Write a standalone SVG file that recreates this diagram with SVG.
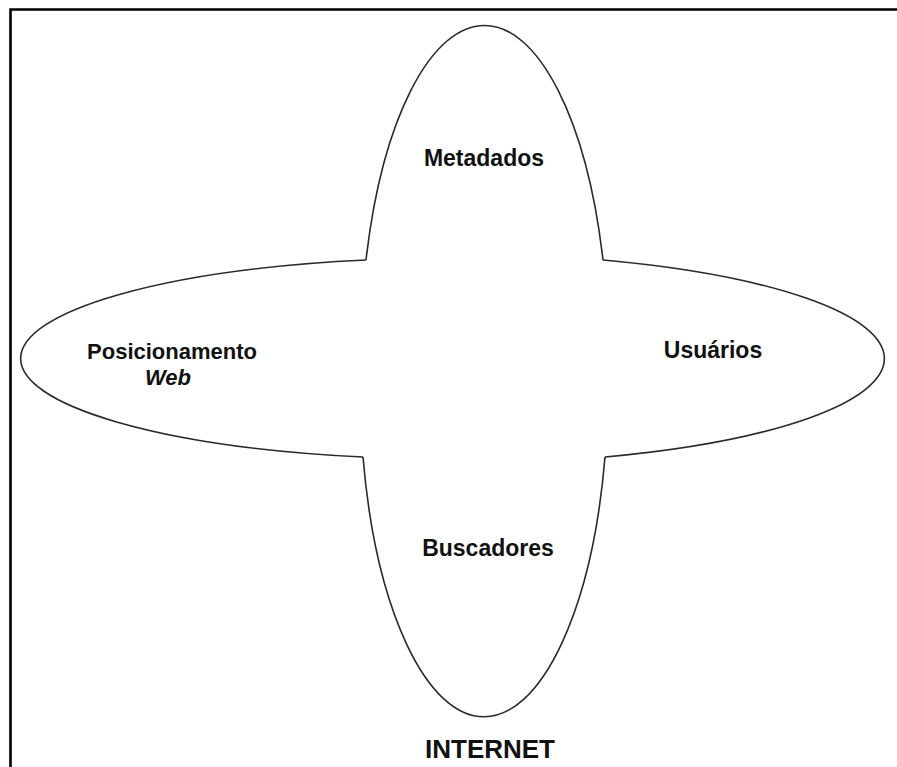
<svg xmlns="http://www.w3.org/2000/svg" width="897" height="767" viewBox="0 0 897 767">
<style>
.lobe{fill:none;stroke:#2a2a2a;stroke-width:1.6}
.lbl{font-family:"Liberation Sans",Arial,sans-serif;font-weight:bold;font-size:23px;fill:#111;text-anchor:middle}
</style>
<rect width="897" height="767" fill="#fff"/>
<path d="M10.5,767 V9.5 H897" fill="none" stroke="#000" stroke-width="2.6"/>
<g id="connectors"></g>
<g id="metadados">
<path class="lobe" d="M366,260 A124,332.5 0 0 1 603,260"/>
<text class="lbl" x="484" y="166">Metadados</text>
</g>
<g id="buscadores">
<path class="lobe" d="M363,457 A124,332.5 0 0 0 605,457"/>
<text class="lbl" x="488" y="556">Buscadores</text>
</g>
<g id="posicionamento">
<path class="lobe" d="M366,260 A429,100.5 0 0 0 363,457"/>
<text class="lbl" x="172" y="359" style="font-size:22px">Posicionamento</text>
<text class="lbl" x="168" y="385" style="font-size:22px;font-style:italic">Web</text>
</g>
<g id="usuarios">
<path class="lobe" d="M603,260 A429,105 0 0 1 605,457"/>
<text class="lbl" x="713" y="358">Usuários</text>
</g>
<g id="internet">
<text class="lbl" x="490" y="758" style="font-size:26px">INTERNET</text>
</g>
</svg>
